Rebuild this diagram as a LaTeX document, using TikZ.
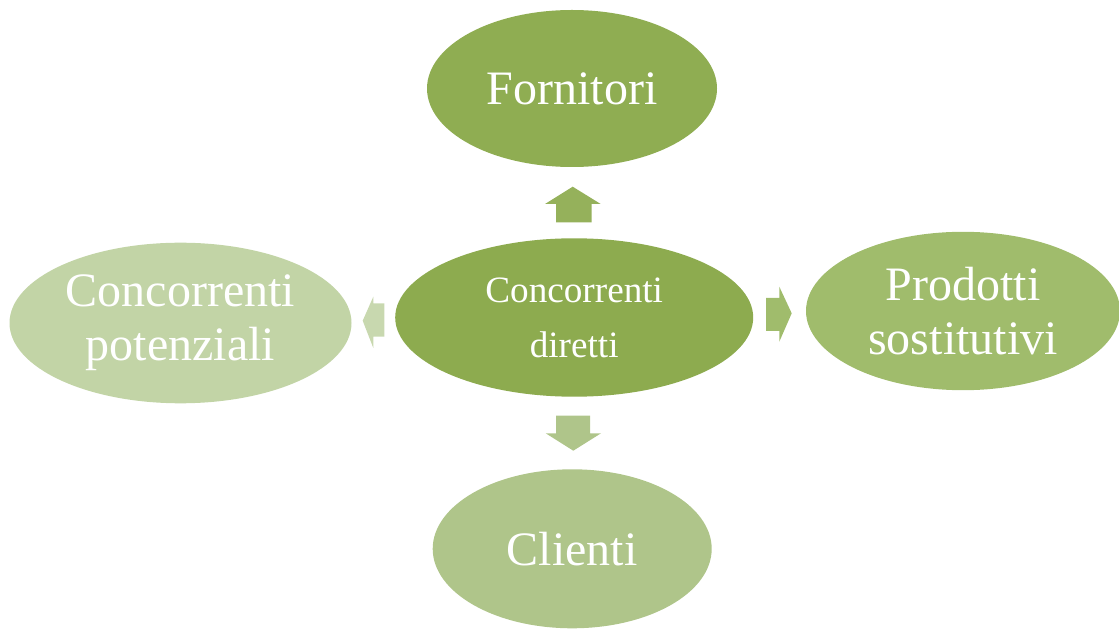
\documentclass[tikz,border=0pt]{standalone}
\usepackage{fontspec}
\setmainfont{Liberation Serif}
\usetikzlibrary{shapes}

\definecolor{midgreen}{HTML}{8DAB4F}
\definecolor{topgreen}{HTML}{8FAD52}
\definecolor{rightgreen}{HTML}{A0BC6C}
\definecolor{downgreen}{HTML}{AFC58A}
\definecolor{leftgreen}{HTML}{C2D4A6}

\begin{document}
\begin{tikzpicture}[x=0.5pt, y=-0.5pt]
    \tikzstyle{force}=[ellipse, inner sep=0pt, text=white, align=center,
      font=\fontsize{24}{27}\selectfont]
    \useasboundingbox (0,0) rectangle (1119,630);
    \node[force, fill=midgreen, minimum width=179pt, minimum height=79.2pt,
      font=\fontsize{18.6}{27.5}\selectfont] (diretti) at (574.2,317.5) {Concorrenti\\diretti};
    \node[force, fill=topgreen, minimum width=145pt, minimum height=78.5pt] (fornitori) at (572,88.5) {Fornitori};
    \node[force, fill=rightgreen, minimum width=157pt, minimum height=79.2pt] (sostitutivi) at (963,311) {Prodotti\\sostitutivi};
    \node[force, fill=leftgreen, minimum width=171pt, minimum height=80.3pt] (potenziali) at (180.5,323) {Concorrenti\\potenziali};
    \node[force, fill=downgreen, minimum width=139.5pt, minimum height=79.5pt] (clienti) at (572.2,548.8) {Clienti};
    % frecce
    \fill[topgreen!95!white] (556,222.3) -- (556,204) -- (545,204) -- (572.7,186.7)
      -- (600.7,204) -- (591.7,204) -- (591.7,222.3) -- cycle;
    \fill[rightgreen] (766,298) -- (779.3,298) -- (779.3,286.7) -- (791.7,313.3)
      -- (779.3,341.7) -- (779.3,331) -- (766,331) -- cycle;
    \fill[leftgreen!90!white] (384.3,303.3) -- (373.3,303.3) -- (373.3,296.7) -- (362.7,320.7)
      -- (373.3,348) -- (373.3,336.7) -- (384.3,336.7) -- cycle;
    \fill[downgreen] (556,415.7) -- (590,415.7) -- (590,433.3) -- (601,433.3)
      -- (573.3,450.7) -- (545.7,433.3) -- (556,433.3) -- cycle;
\end{tikzpicture}
\end{document}
